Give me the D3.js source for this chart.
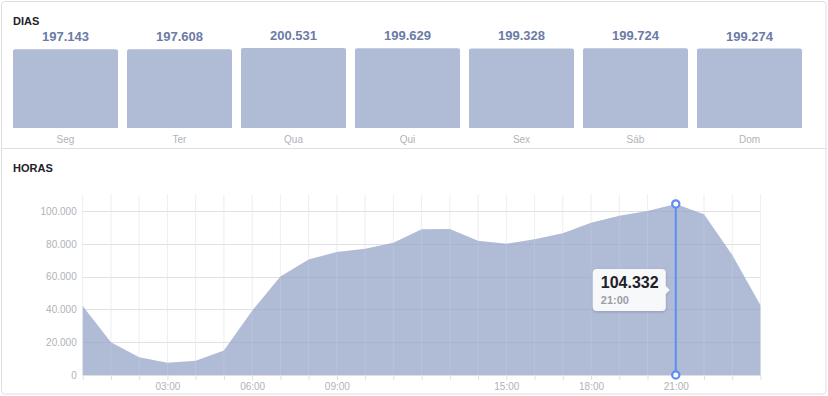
<!DOCTYPE html>
<html><head><meta charset="utf-8">
<script src="https://cdn.jsdelivr.net/npm/d3@7"></script>
<style>
html,body{margin:0;padding:0;background:#fff;}
svg{display:block;font-family:"Liberation Sans",Arial,sans-serif;}
</style></head>
<body>
<svg id="c" width="828" height="396"></svg>
<script>
const days = ["Seg","Ter","Qua","Qui","Sex","Sáb","Dom"];
const dayValues = [197143,197608,200531,199629,199328,199724,199274];
const hours = d3.range(25);
const hourValues = [42000,20000,10800,7500,8700,15000,39200,60000,70500,75000,77000,80700,88800,89000,81900,80100,82700,86400,92900,97100,100000,104332,98000,73200,42500];
const hourTicks = [3,6,9,15,18,21];
const yTicks = [0,20000,40000,60000,80000,100000];
const highlightHour = 21;

const fmt = v => d3.format(",")(v).replace(/,/g,".");
const hh = h => String(h).padStart(2,"0")+":00";

const svg = d3.select("#c");
const fill = "#b0bbd6";

// card
svg.append("rect").attr("x",1.5).attr("y",1.5).attr("width",824.5).attr("height",392.5)
  .attr("rx",3).attr("fill","#fff").attr("stroke","#dddfe2");
svg.append("line").attr("x1",1.5).attr("x2",826).attr("y1",148.5).attr("y2",148.5).attr("stroke","#dddfe2");

// titles
svg.append("text").attr("x",13).attr("y",25).text("DIAS")
  .attr("font-size",11).attr("font-weight","bold").attr("fill","#1d2129");
svg.append("text").attr("x",13).attr("y",172).text("HORAS")
  .attr("font-size",11).attr("font-weight","bold").attr("fill","#1d2129");

// bars
const xb = d3.scaleBand().domain(days).range([13,802]).paddingInner(9/114).paddingOuter(0);
const yb = d3.scaleLinear().domain([0,200531]).range([128,48]);
const bars = svg.append("g");
days.forEach((d,i)=>{
  const x = xb(d), w = xb.bandwidth(), y0 = yb(dayValues[i]), r = 2;
  bars.append("path").attr("fill",fill)
    .attr("d",`M${x},128V${y0+r}Q${x},${y0} ${x+r},${y0}H${x+w-r}Q${x+w},${y0} ${x+w},${y0+r}V128Z`);
  bars.append("text").attr("x",x+w/2).attr("y",y0-8).attr("text-anchor","middle")
    .attr("font-size",13).attr("font-weight","bold").attr("fill","#6b7ba6").text(fmt(dayValues[i]));
  bars.append("text").attr("x",x+w/2).attr("y",143).attr("text-anchor","middle")
    .attr("font-size",10).attr("fill","#b0b3b8").text(d);
});

// hours chart
const x = d3.scaleLinear().domain([0,24]).range([82.7,760.5]);
const y = d3.scaleLinear().domain([0,110000]).range([375,194.6]);

const grid = svg.append("g");
grid.selectAll("line.v").data(hours).join("line")
  .attr("x1",d=>x(d)).attr("x2",d=>x(d)).attr("y1",194.6).attr("y2",375)
  .attr("stroke","#ebedf0").attr("stroke-width",1);
grid.selectAll("line.h").data(yTicks.filter(v=>v>0)).join("line")
  .attr("x1",82.7).attr("x2",760.5).attr("y1",d=>Math.round(y(d))+0.5).attr("y2",d=>Math.round(y(d))+0.5)
  .attr("stroke","#ebedf0");

const area = d3.area().x((d,i)=>x(hours[i])).y0(y(0)).y1(d=>y(d));
svg.append("path").datum(hourValues).attr("d",area).attr("fill",fill);

// faint grid over area
const og = svg.append("g");
og.selectAll("line").data(yTicks.filter(v=>v>0)).join("line")
  .attr("x1",82.7).attr("x2",760.5).attr("y1",d=>Math.round(y(d))+0.5).attr("y2",d=>Math.round(y(d))+0.5)
  .attr("stroke","rgba(80,90,120,0.08)");
og.selectAll("line.v").data(hours).join("line")
  .attr("x1",d=>x(d)).attr("x2",d=>x(d)).attr("y1",194.6).attr("y2",375)
  .attr("stroke","rgba(255,255,255,0.12)");

// y axis
const ya = d3.axisLeft(y).tickValues(yTicks).tickFormat(fmt).tickSize(0).tickPadding(6);
const yg = svg.append("g").attr("transform","translate(82.7,0)").call(ya);
yg.select(".domain").remove();
yg.selectAll("text").attr("font-size",10).attr("fill","#b0b3b8").attr("font-family","Liberation Sans, Arial, sans-serif");

// x axis
const xa = d3.axisBottom(x).tickValues(hours).tickSize(5).tickFormat(d=>hourTicks.includes(d)?hh(d):"").tickPadding(3);
const xg = svg.append("g").attr("transform","translate(0,375)").call(xa);
xg.select(".domain").attr("stroke","#dddfe2").attr("d",`M82.7,0.5H760.5`);
xg.selectAll(".tick line").attr("stroke","#dddfe2");
xg.selectAll("text").attr("font-size",10).attr("fill","#b0b3b8").attr("font-family","Liberation Sans, Arial, sans-serif");

// highlight
const hx = x(highlightHour), hv = hourValues[highlightHour];
svg.append("line").attr("x1",hx).attr("x2",hx).attr("y1",y(hv)).attr("y2",y(0))
  .attr("stroke","#5b8ef0").attr("stroke-width",2);
[y(hv),y(0)].forEach(cy=>svg.append("circle").attr("cx",hx).attr("cy",cy).attr("r",3.6)
  .attr("fill","#fff").attr("stroke","#5b8ef0").attr("stroke-width",2.2));

// tooltip
const defs = svg.append("defs");
const f = defs.append("filter").attr("id","sh").attr("x","-20%").attr("y","-20%").attr("width","140%").attr("height","160%");
f.append("feDropShadow").attr("dx",0).attr("dy",1).attr("stdDeviation",1.5).attr("flood-color","#000").attr("flood-opacity",0.18);
const tx = hx - 83, ty = 269, tw = 73, th = 42;
const tg = svg.append("g").attr("filter","url(#sh)");
tg.append("path").attr("fill","#f7f8fa")
  .attr("d",`M${tx+4},${ty}H${tx+tw-4}Q${tx+tw},${ty} ${tx+tw},${ty+4}V${ty+17}L${tx+tw+4},${ty+21}L${tx+tw},${ty+25}V${ty+th-4}Q${tx+tw},${ty+th} ${tx+tw-4},${ty+th}H${tx+4}Q${tx},${ty+th} ${tx},${ty+th-4}V${ty+4}Q${tx},${ty} ${tx+4},${ty}Z`);
svg.append("text").attr("x",tx+8).attr("y",ty+19).attr("font-size",16).attr("font-weight","bold")
  .attr("fill","#1d2129").text(fmt(hv));
svg.append("text").attr("x",tx+8).attr("y",ty+35).attr("font-size",11).attr("font-weight","bold")
  .attr("fill","#9a9ea6").text(hh(highlightHour));
</script>
</body></html>
